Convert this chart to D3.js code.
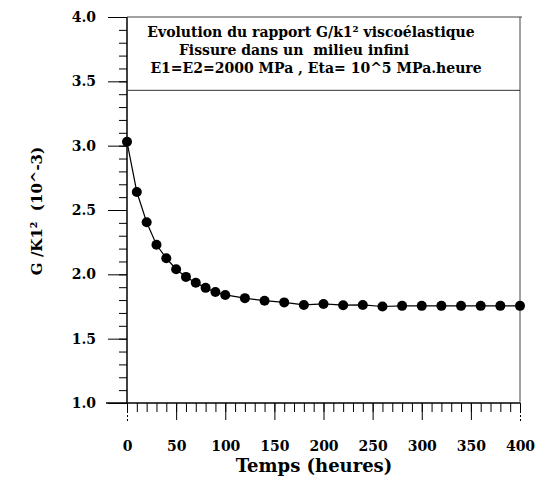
<!DOCTYPE html>
<html>
<head>
<meta charset="utf-8">
<script src="https://cdn.jsdelivr.net/npm/d3@7"></script>
<style>
    body { margin: 0; background: #fff; }
    text { font-family: "DejaVu Serif", serif; font-weight: bold; fill: #000; white-space: pre; }
</style>
</head>
<body>
<div id="chart"></div>
<script>
// data
var times = [0, 10, 20, 30, 40, 50, 60, 70, 80, 90, 100, 120, 140, 160, 180, 200, 220, 240, 260, 280, 300, 320, 340, 360, 380, 400];
var ratios = [3.03, 2.64, 2.405, 2.23, 2.125, 2.04, 1.98, 1.935, 1.895, 1.862, 1.84, 1.815, 1.795, 1.782, 1.762, 1.77, 1.76, 1.762, 1.75, 1.755, 1.755, 1.755, 1.755, 1.755, 1.755, 1.755];
var xTicks = [0, 50, 100, 150, 200, 250, 300, 350, 400];
var yTicks = [1.0, 1.5, 2.0, 2.5, 3.0, 3.5, 4.0];
var titleLines = [
    "Evolution du rapport G/k1\u00b2 visco\u00e9lastique",
    "Fissure dans un  milieu infini",
    "E1=E2=2000 MPa , Eta= 10^5 MPa.heure"
];

var width = 549, height = 482;
var plotLeft = 127, plotRight = 520, plotTop = 17, plotBottom = 403;

var svg = d3.select("#chart").append("svg")
    .attr("width", width)
    .attr("height", height);

var x = d3.scaleLinear().domain([0, 400]).range([plotLeft, plotRight]);
var y = d3.scaleLinear().domain([1, 4]).range([plotBottom, plotTop]);

//minor ticks
svg.append("g")
    .attr("transform", "translate(" + plotLeft + ",0)")
    .call(d3.axisLeft(y).tickValues(d3.range(10, 41).map(function (d) { return d / 10; })).tickSize(8).tickFormat(""))
    .call(function (g) { g.select(".domain").remove(); });
svg.append("g")
    .attr("transform", "translate(0," + plotBottom + ")")
    .call(d3.axisBottom(x).tickValues(d3.range(0, 401, 10)).tickSize(9).tickFormat(""))
    .call(function (g) { g.select(".domain").remove(); });

//major ticks with labels
var yAxis = svg.append("g")
    .attr("transform", "translate(" + plotLeft + ",0)")
    .call(d3.axisLeft(y).tickValues(yTicks).tickSize(19).tickPadding(12).tickFormat(d3.format(".1f")));
yAxis.select(".domain").remove();
yAxis.selectAll("text").style("font-size", "14px").style("font-family", null);

var xAxis = svg.append("g")
    .attr("transform", "translate(0," + plotBottom + ")")
    .call(d3.axisBottom(x).tickValues(xTicks).tickSize(17).tickPadding(21));
xAxis.select(".domain").remove();
xAxis.selectAll("text").style("font-size", "14px").style("font-family", null);
xAxis.selectAll(".tick line")
    .filter(function (d) { return d == 0 || d == 400; })
    .attr("y2", 20)
    .attr("stroke-dasharray", "2,2");

//frame
svg.append("line").attr("x1", plotLeft).attr("x2", plotLeft).attr("y1", plotTop).attr("y2", plotBottom)
    .attr("stroke", "#000").attr("stroke-width", 1.5);
svg.append("line").attr("x1", plotLeft - 21).attr("x2", plotRight).attr("y1", plotBottom).attr("y2", plotBottom)
    .attr("stroke", "#000").attr("stroke-width", 1.5);
svg.append("line").attr("x1", plotLeft).attr("x2", plotRight + 2).attr("y1", plotTop).attr("y2", plotTop)
    .attr("stroke", "#444").attr("stroke-width", 1);
svg.append("line").attr("x1", plotRight).attr("x2", plotRight).attr("y1", plotTop).attr("y2", plotBottom)
    .attr("stroke", "#444").attr("stroke-width", 1);

//title box
var boxBottom = y(3.43);
svg.append("line").attr("x1", plotLeft).attr("x2", plotRight).attr("y1", boxBottom).attr("y2", boxBottom)
    .attr("stroke", "#333").attr("stroke-width", 1);
svg.selectAll(".title")
    .data(titleLines)
    .enter().append("text")
    .attr("class", "title")
    .attr("x", function (d, i) { return [311, 294, 316][i]; })
    .attr("y", function (d, i) { return 37 + i * 18; })
    .attr("text-anchor", "middle")
    .style("font-size", "14px")
    .text(function (d) { return d; });

//series
var pts = times.map(function (t, i) { return [t, ratios[i]]; });
svg.append("path")
    .datum(pts)
    .attr("fill", "none")
    .attr("stroke", "#000")
    .attr("stroke-width", 1.2)
    .attr("d", d3.line().x(function (d) { return x(d[0]); }).y(function (d) { return y(d[1]); }));
svg.selectAll(".dot")
    .data(pts)
    .enter().append("circle")
    .attr("class", "dot")
    .attr("cx", function (d) { return x(d[0]); })
    .attr("cy", function (d) { return y(d[1]); })
    .attr("r", 5)
    .attr("fill", "#000");

//axis titles
svg.append("text")
    .attr("x", 314)
    .attr("y", 472)
    .attr("text-anchor", "middle")
    .style("font-size", "18px")
    .text("Temps (heures)");
svg.append("text")
    .attr("transform", "translate(42,211) rotate(-90)")
    .attr("text-anchor", "middle")
    .style("font-size", "15px")
    .text("G /K1\u00b2  (10^-3)");
</script>
</body>
</html>
